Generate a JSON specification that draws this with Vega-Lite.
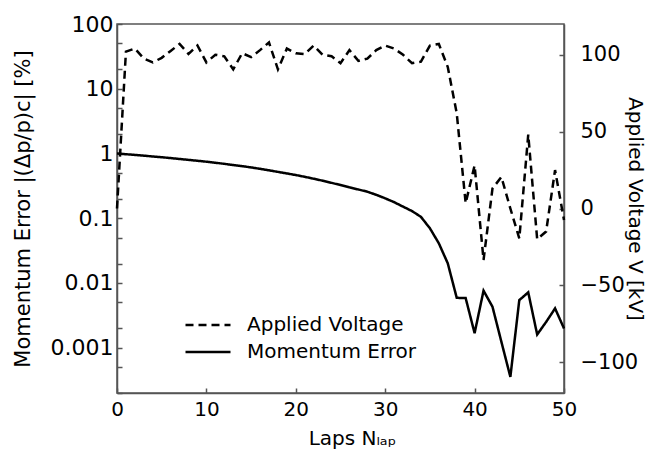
{
  "$schema": "https://vega.github.io/schema/vega-lite/v6.json",
  "width": 447,
  "height": 369,
  "autosize": {"type": "none"},
  "padding": {"left": 117, "top": 24, "right": 85, "bottom": 59},
  "config": {
    "view": {"stroke": "#555", "strokeWidth": 1.5},
    "font": "DejaVu Sans",
    "axis": {
      "labelFont": "DejaVu Sans", "titleFont": "DejaVu Sans",
      "labelColor": "black", "titleColor": "black",
      "domainColor": "#555", "tickColor": "#555", "domainWidth": 1.5, "tickWidth": 1.5,
      "grid": false, "titleFontWeight": "normal",
      "labelFontSize": 20, "titleFontSize": 20, "tickSize": -5
    }
  },
  "data": {"values": [
    {"lap": 0, "voltage": 0, "error": 1.0},
    {"lap": 1, "voltage": 102, "error": 0.975},
    {"lap": 2, "voltage": 104, "error": 0.95},
    {"lap": 3, "voltage": 97.5, "error": 0.925},
    {"lap": 4, "voltage": 95, "error": 0.9},
    {"lap": 5, "voltage": 98, "error": 0.875},
    {"lap": 6, "voltage": 102.5, "error": 0.85},
    {"lap": 7, "voltage": 107, "error": 0.823},
    {"lap": 8, "voltage": 100.5, "error": 0.797},
    {"lap": 9, "voltage": 106, "error": 0.772},
    {"lap": 10, "voltage": 95, "error": 0.747},
    {"lap": 11, "voltage": 100, "error": 0.72},
    {"lap": 12, "voltage": 99, "error": 0.692},
    {"lap": 13, "voltage": 90.5, "error": 0.664},
    {"lap": 14, "voltage": 101, "error": 0.637},
    {"lap": 15, "voltage": 98.5, "error": 0.61},
    {"lap": 16, "voltage": 103, "error": 0.58},
    {"lap": 17, "voltage": 108, "error": 0.55},
    {"lap": 18, "voltage": 90.5, "error": 0.52},
    {"lap": 19, "voltage": 104, "error": 0.492},
    {"lap": 20, "voltage": 101, "error": 0.465},
    {"lap": 21, "voltage": 100.5, "error": 0.436},
    {"lap": 22, "voltage": 106, "error": 0.408},
    {"lap": 23, "voltage": 100, "error": 0.38},
    {"lap": 24, "voltage": 99, "error": 0.352},
    {"lap": 25, "voltage": 94.5, "error": 0.326},
    {"lap": 26, "voltage": 103, "error": 0.3},
    {"lap": 27, "voltage": 96, "error": 0.278},
    {"lap": 28, "voltage": 97.5, "error": 0.257},
    {"lap": 29, "voltage": 103, "error": 0.23},
    {"lap": 30, "voltage": 106, "error": 0.203},
    {"lap": 31, "voltage": 104, "error": 0.177},
    {"lap": 32, "voltage": 100, "error": 0.151},
    {"lap": 33, "voltage": 94.5, "error": 0.129},
    {"lap": 34, "voltage": 95.5, "error": 0.105},
    {"lap": 35, "voltage": 106, "error": 0.07},
    {"lap": 36, "voltage": 107, "error": 0.041},
    {"lap": 37, "voltage": 92, "error": 0.0201},
    {"lap": 38, "voltage": 62, "error": 0.0059},
    {"lap": 39, "voltage": 3.5, "error": 0.00585},
    {"lap": 40, "voltage": 28, "error": 0.00168},
    {"lap": 41, "voltage": -33.5, "error": 0.0076},
    {"lap": 42, "voltage": 13, "error": 0.0043},
    {"lap": 43, "voltage": 20.5, "error": 0.00123},
    {"lap": 44, "voltage": 0, "error": 0.000355},
    {"lap": 45, "voltage": -19.5, "error": 0.00544},
    {"lap": 46, "voltage": 48, "error": 0.00716},
    {"lap": 47, "voltage": -20, "error": 0.0016},
    {"lap": 48, "voltage": -15, "error": 0.0025},
    {"lap": 49, "voltage": 25, "error": 0.00405},
    {"lap": 50, "voltage": -7.5, "error": 0.00199}
  ]},
  "layer": [
    {
      "mark": {"type": "line", "color": "black", "strokeWidth": 2.5},
      "encoding": {
        "x": {
          "field": "lap", "type": "quantitative",
          "scale": {"domain": [0, 50], "nice": false},
          "axis": {"values": [0, 10, 20, 30, 40, 50], "labelFlush": false, "labelPadding": 11,
                   "title": "Laps  Nₗₐₚ", "titleX": 235, "titleY": 35, "titleAlign": "center"}
        },
        "y": {
          "field": "voltage", "type": "quantitative",
          "scale": {"domain": [-120, 120], "nice": false, "zero": false},
          "axis": {"orient": "right", "values": [-100, -50, 0, 50, 100], "labelPadding": 21,
                   "labelFontSize": 21,
                   "title": "Applied Voltage  V [kV]", "titleX": 60}
        },
        "strokeDash": {
          "datum": "Applied Voltage", "type": "nominal",
          "scale": {"domain": ["Applied Voltage", "Momentum Error"], "range": [[8, 5], [1, 0]]},
          "legend": {
            "orient": "none", "legendX": 81, "legendY": 291, "title": null, "padding": 0,
            "symbolType": "M-3,0H3", "symbolSize": 225, "symbolStrokeWidth": 2.5,
            "symbolStrokeColor": "black", "labelFontSize": 20, "labelOffset": 29, "labelLimit": 0,
            "rowPadding": 7, "labelFont": "DejaVu Sans", "labelColor": "black"
          }
        }
      }
    },
    {
      "mark": {"type": "line", "color": "black", "strokeWidth": 2.5},
      "encoding": {
        "x": {"field": "lap", "type": "quantitative"},
        "y": {
          "field": "error", "type": "quantitative",
          "scale": {"type": "log", "domain": [0.0002, 100], "nice": false},
          "axis": {
            "orient": "left",
            "values": [0.0002, 0.0005, 0.001, 0.002, 0.005, 0.01, 0.02, 0.05, 0.1, 0.2, 0.5, 1, 2, 5, 10, 20, 50, 100],
            "labelExpr": "abs(log(datum.value)/LN10 - round(log(datum.value)/LN10)) < 0.000001 ? format(datum.value, '~g') : ''",
            "labelOverlap": false, "labelPadding": 9, "labelFontSize": 22,
            "title": "Momentum Error  |(Δp/p)c| [%]", "titleFontSize": 21, "titleX": -84
          }
        },
        "strokeDash": {"datum": "Momentum Error", "type": "nominal"}
      }
    }
  ],
  "resolve": {"scale": {"y": "independent"}}
}
